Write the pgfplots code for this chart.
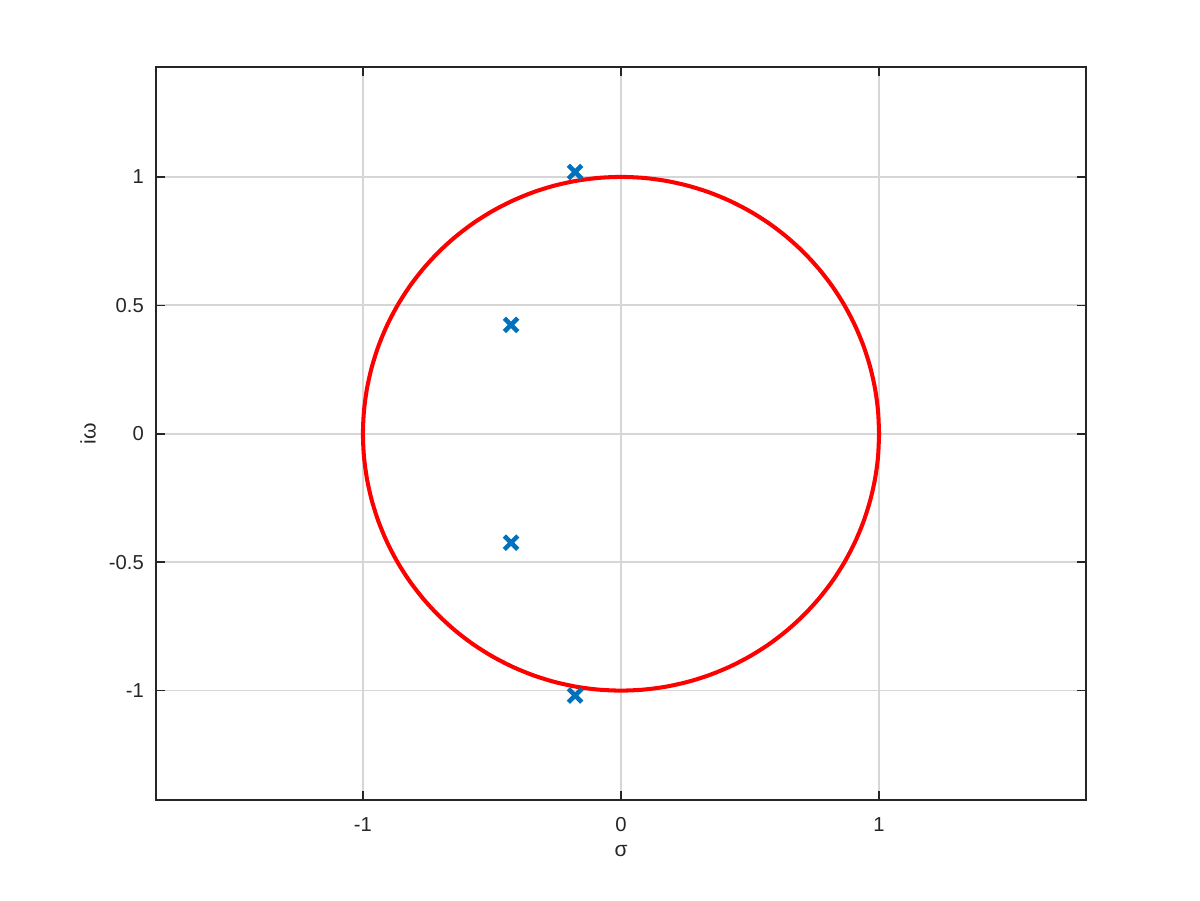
\documentclass[border=0pt]{standalone}
\usepackage{pgfplots}
\pgfplotsset{compat=1.18}
\usepackage{fontspec}
\setmainfont{Liberation Sans}
\definecolor{mblue}{rgb}{0,0.447,0.741}
\definecolor{axgray}{rgb}{0.15,0.15,0.15}
\begin{document}
\begin{tikzpicture}
\begin{axis}[
  name=ax,
  scale only axis,
  width=18.6cm, height=14.66cm,
  xmin=-1.802, xmax=1.802,
  ymin=-1.426, ymax=1.428,
  xtick={-1,0,1}, ytick={-1,-0.5,0,0.5,1},
  xticklabels={-1,0,1}, yticklabels={-1,-0.5,0,0.5,1},
  grid=major,
  major grid style={color=black!16, line width=1pt},
  axis line style={color=axgray, line width=0.9pt},
  tick style={color=axgray, line width=0.9pt},
  tick align=inside,
  major tick length=0.18cm,
  ticklabel style={font=\fontsize{11.5}{13}\selectfont, color=axgray},
  xticklabel style={yshift=-0.22cm},
  yticklabel style={xshift=-0.12cm},
  label style={font=\fontsize{12}{14}\selectfont, color=axgray},
  xlabel={σ}, ylabel={iω},
  xlabel style={at={(axis description cs:0.5,-0.0696)}, anchor=center},
  ylabel style={at={(axis description cs:-0.0731,0.5)}, anchor=center},
]
\addplot[red, line width=2.3pt, line join=round, smooth] coordinates {
(1,0) (0.9962,0.0872) (0.9848,0.1736) (0.9659,0.2588) (0.9397,0.3420) (0.9063,0.4226) (0.8660,0.5) (0.8192,0.5736) (0.7660,0.6428) (0.7071,0.7071) (0.6428,0.7660) (0.5736,0.8192) (0.5,0.8660) (0.4226,0.9063) (0.3420,0.9397) (0.2588,0.9659) (0.1736,0.9848) (0.0872,0.9962)
(0,1) (-0.0872,0.9962) (-0.1736,0.9848) (-0.2588,0.9659) (-0.3420,0.9397) (-0.4226,0.9063) (-0.5,0.8660) (-0.5736,0.8192) (-0.6428,0.7660) (-0.7071,0.7071) (-0.7660,0.6428) (-0.8192,0.5736) (-0.8660,0.5) (-0.9063,0.4226) (-0.9397,0.3420) (-0.9659,0.2588) (-0.9848,0.1736) (-0.9962,0.0872)
(-1,0) (-0.9962,-0.0872) (-0.9848,-0.1736) (-0.9659,-0.2588) (-0.9397,-0.3420) (-0.9063,-0.4226) (-0.8660,-0.5) (-0.8192,-0.5736) (-0.7660,-0.6428) (-0.7071,-0.7071) (-0.6428,-0.7660) (-0.5736,-0.8192) (-0.5,-0.8660) (-0.4226,-0.9063) (-0.3420,-0.9397) (-0.2588,-0.9659) (-0.1736,-0.9848) (-0.0872,-0.9962)
(0,-1) (0.0872,-0.9962) (0.1736,-0.9848) (0.2588,-0.9659) (0.3420,-0.9397) (0.4226,-0.9063) (0.5,-0.8660) (0.5736,-0.8192) (0.6428,-0.7660) (0.7071,-0.7071) (0.7660,-0.6428) (0.8192,-0.5736) (0.8660,-0.5) (0.9063,-0.4226) (0.9397,-0.3420) (0.9659,-0.2588) (0.9848,-0.1736) (0.9962,-0.0872) (1,0)
};
\addplot[only marks, mark=x, mark size=0.19cm, mark options={line width=2.6pt, color=mblue}] coordinates {
(-0.178,1.019) (-0.426,0.424) (-0.426,-0.424) (-0.178,-1.019)
};
\end{axis}
\path (ax.south west) ++(-3.12cm,-2.0cm) coordinate (bl);
\path[use as bounding box] (bl) rectangle ++(24cm,18cm);
\end{tikzpicture}
\end{document}
